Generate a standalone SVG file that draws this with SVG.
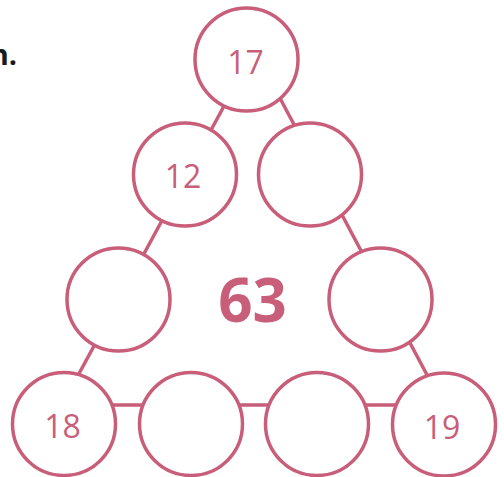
<svg xmlns="http://www.w3.org/2000/svg" width="504" height="477" viewBox="0 0 504 477">
<style>
.c{fill:#fff;stroke:#C85E79;stroke-width:3.5}
.t{font-family:"Open Sans","Liberation Sans",sans-serif;font-size:32px;fill:#C85E79;text-anchor:middle}
.conn{fill:none;stroke:#C85E79;stroke-width:3.5;stroke-linejoin:round}
</style>
<rect width="504" height="477" fill="#fff"/>
<text x="17" y="65" font-family="Open Sans, Liberation Sans, sans-serif" font-size="29" font-weight="bold" fill="#1a1a1a" text-anchor="end">n.</text>
<g id="connectors">
<polygon class="conn" points="254.4,50 62,405 443,405"/>
</g>
<g id="n17"><circle class="c" cx="246.5" cy="59.5" r="51.5"/><text class="t" x="245.5" y="74">17</text></g>
<g id="n12"><circle class="c" cx="185" cy="174.5" r="51.5"/><text class="t" x="183" y="188">12</text></g>
<g id="nR2"><circle class="c" cx="310" cy="174.5" r="51.5"/></g>
<g id="nL3"><circle class="c" cx="118.5" cy="299.5" r="51.5"/></g>
<g id="nR3"><circle class="c" cx="380.5" cy="299.5" r="51.5"/></g>
<g id="n18"><circle class="c" cx="64" cy="424" r="51.5"/><text class="t" x="62.5" y="438">18</text></g>
<g id="nB2"><circle class="c" cx="191" cy="424" r="51.5"/></g>
<g id="nB3"><circle class="c" cx="317" cy="424" r="51.5"/></g>
<g id="n19"><circle class="c" cx="444" cy="424.5" r="51.5"/><text class="t" x="442" y="439">19</text></g>
<g id="total"><text x="252.5" y="322" font-family="Open Sans, Liberation Sans, sans-serif" font-size="60" font-weight="bold" fill="#C85E79" text-anchor="middle">63</text></g>
</svg>
